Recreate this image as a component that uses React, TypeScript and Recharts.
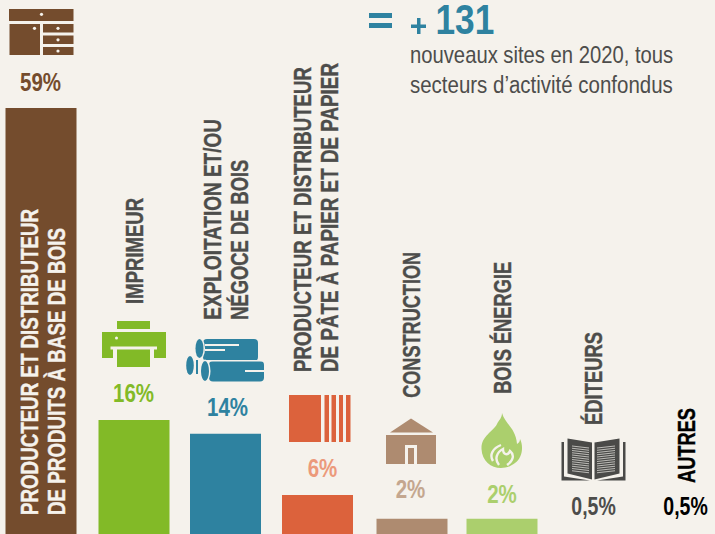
import { BarChart, Bar, XAxis, YAxis, Cell, LabelList, Rectangle } from 'recharts';

const BG = '#f5f2ec';
const GREY = '#4d4d4b';
const FONT = '"Liberation Sans", sans-serif';

const sectors = ['Produits bois', 'Imprimeur', 'Exploitation', 'Pâte à papier', 'Construction', 'Bois énergie', 'Éditeurs', 'Autres'];
const shareLabels = ['59%', '16%', '14%', '6%', '2%', '2%', '0,5%', '0,5%'];
// bar heights as drawn in the picture
const barValues = [59, 15.8, 13.9, 5.4, 2.1, 2.1, 0.5, 0.5];
const titles = [
  ['PRODUCTEUR ET DISTRIBUTEUR', 'DE PRODUITS À BASE DE BOIS'],
  ['IMPRIMEUR'],
  ['EXPLOITATION ET/OU', 'NÉGOCE DE BOIS'],
  ['PRODUCTEUR ET DISTRIBUTEUR', 'DE PÂTE À PAPIER ET DE PAPIER'],
  ['CONSTRUCTION'],
  ['BOIS ÉNERGIE'],
  ['ÉDITEURS'],
  ['AUTRES'],
];
// the picture uses a condensed face, so each line is fitted to its length
const titleLengths = [[306, 287], [106], [200.5, 160], [305, 309], [146], [132], [93], [75]];

// the two 0,5% sectors have no visible bar in the picture
const barColors = ['#744c2d', '#82ba27', '#2e82a0', '#dc623c', '#ae8b70', '#abcf6d', 'none', 'none'];
const labelColors = ['#744c2d', '#82ba27', '#2e82a0', '#ec9a7b', '#c4a78f', '#abcf6d', GREY, '#000000'];
const titleColors = ['#f5f2ec', GREY, GREY, GREY, GREY, GREY, GREY, '#000000'];

// small shifts and text offsets from each bar's centre and top
const barNudge = [0, 1, 0.5, 0.5, 3, 1, 0, 0];
const titleDx = [-3, 9.5, -4.5, -6.5, 10.5, 9.5, 8.5, 9.5];
const titleLift = [-407, 116, 114, 123, 121, 125, 105.4, 47.4];
const labelDx = [-0.5, 0.5, 2.5, 5.5, 1.5, 1, 0.5, 0.5];
const labelLift = [17, 18, 18, 18, 21, 16, 15.4, 15.4];

const rows = sectors.map((name, i) => ({ name, value: barValues[i], share: shareLabels[i] }));

function BarTexts(props: any) {
  const { x, y, width, index } = props;
  const cx = x + width / 2;
  const label = shareLabels[index];
  return (
    <g>
      <text
        transform={`translate(${cx + labelDx[index]} ${y - labelLift[index]}) scale(${label.length > 3 ? 0.78 : 0.82} 1)`}
        textAnchor="middle"
        fontFamily={FONT}
        fontWeight="bold"
        fontSize={25}
        fill={labelColors[index]}
      >
        {label}
      </text>
      {titles[index].map((line, k) => {
        const tx = cx + titleDx[index] + k * 27;
        const ty = y - titleLift[index];
        return (
          <text
            key={line}
            transform={`translate(${tx} ${ty}) rotate(-90)`}
            textLength={titleLengths[index][k]}
            lengthAdjust="spacingAndGlyphs"
            fontFamily={FONT}
            fontWeight="bold"
            fontSize={24}
            fill={titleColors[index]}
            stroke={titleColors[index]}
            strokeWidth={0.4}
          >
            {line}
          </text>
        );
      })}
    </g>
  );
}

function NudgedBar(props: any) {
  return <Rectangle {...props} x={props.x + barNudge[props.index]} />;
}

function Icons() {
  const bookLines = [0, 1, 2, 3, 4, 5, 6, 7, 8, 9, 10, 11];
  return (
    <svg width={715} height={534} style={{ position: 'absolute', left: 0, top: 0 }}>
      {/* furniture */}
      <g fill="#744c2d">
        <rect x={9} y={9} width={64.5} height={12} />
        <rect x={9.5} y={24} width={30.5} height={31} />
        <rect x={43} y={24} width={30.5} height={8.5} />
        <rect x={43} y={35.5} width={30.5} height={8.5} />
        <rect x={43} y={47} width={30.5} height={8} />
      </g>
      <g fill={BG}>
        <circle cx={41.5} cy={14.3} r={1.6} />
        <circle cx={34.5} cy={28.3} r={1.6} />
        <circle cx={58} cy={28.3} r={1.6} />
        <circle cx={58} cy={39.8} r={1.6} />
        <circle cx={58} cy={51} r={1.6} />
      </g>
      {/* printer */}
      <g fill="#82ba27">
        <rect x={117} y={321} width={33} height={8} />
        <rect x={102} y={332} width={64} height={26} />
      </g>
      <rect x={113} y={349} width={41} height={10} fill={BG} />
      <rect x={110.5} y={346.5} width={46.5} height={3} fill={BG} />
      <rect x={117} y={349.5} width={33} height={17.5} fill="#82ba27" />
      <circle cx={116.5} cy={338} r={1.5} fill={BG} />
      {/* logs */}
      <g fill="#2e82a0">
        <rect x={203} y={339} width={55} height={22} rx={4} />
        <ellipse cx={190} cy={365.5} rx={3.8} ry={9.5} />
        <rect x={209} y={361} width={55} height={20.5} rx={4} />
        <rect x={196} y={360} width={2} height={14} />
      </g>
      <g fill={BG}>
        <rect x={203} y={360} width={60} height={1.5} />
        <ellipse cx={199.5} cy={348.5} rx={5.5} ry={11} />
        <ellipse cx={205} cy={371} rx={5.5} ry={11.5} />
      </g>
      <g fill="#2e82a0">
        <ellipse cx={199.5} cy={348.5} rx={4} ry={9.5} />
        <ellipse cx={205} cy={371} rx={4} ry={10} />
      </g>
      <g fill={BG}>
        <rect x={205} y={344} width={34} height={2} />
        <rect x={205} y={349} width={20} height={2} />
        <rect x={245} y={370} width={19} height={2} />
      </g>
      {/* pulp stack */}
      <g fill="#dc623c">
        <rect x={289} y={395} width={32} height={47} />
        <rect x={324.5} y={395} width={4.5} height={47} />
        <rect x={331.5} y={395} width={4.5} height={47} />
        <rect x={339} y={395} width={4} height={47} />
        <rect x={346} y={395} width={4.5} height={47} />
      </g>
      {/* house */}
      <g fill="#ae8b70">
        <path d="M390 432.5 L411 418.5 L433 432.5 Z" />
        <rect x={386} y={435} width={50} height={29} />
      </g>
      <rect x={405} y={445} width={12} height={19} fill={BG} />
      <rect x={408} y={448} width={6} height={16} fill="#ae8b70" />
      {/* flame */}
      <path
        d="M502 413 C505 424 516 428 517 444 C519 443 520 441 520 439 C524 447 522 458 515 463 C510 467 505 468 501 468 C491 468 482 461 481.5 449 C481 436 493 432 497 424 C499 420 502 418 502 413 Z"
        fill="#abcf6d"
      />
      <path
        d="M501 445 C493 448 489 455 493 461 M499 465 C494 459 497 452 503 449 C503 455 508 456 510 451 C515 455 513 461 507 465"
        fill="none"
        stroke={BG}
        strokeWidth={2.4}
      />
      {/* book */}
      <g fill="#4a4a48">
        <path d="M567.5 438.5 L592 442.5 L592 479.5 L567.5 473.5 Z" />
        <path d="M594.5 442.5 L619.5 438.5 L619.5 473.5 L594.5 479.5 Z" />
        <path d="M561.5 442 L564 442 L564 476.5 L590 480.5 L561.5 480.5 Z" />
        <path d="M625.5 442 L623 442 L623 476.5 L597 480.5 L625.5 480.5 Z" />
      </g>
      <g stroke="#c9c8c4" strokeWidth={0.9}>
        {bookLines.map((n) => (
          <g key={n}>
            <line x1={572} y1={446 + n * 2.25} x2={589} y2={448 + n * 2.25} />
            <line x1={597} y1={448 + n * 2.25} x2={615} y2={446 + n * 2.25} />
          </g>
        ))}
      </g>
      {/* headline */}
      <g fill="#2e82a0">
        <rect x={369} y={13} width={23} height={5} />
        <rect x={369} y={23} width={23} height={5} />
        <rect x={411} y={24.5} width={15} height={3.5} />
        <rect x={417} y={18} width={3.5} height={16} />
      </g>
      <text transform="translate(435.5 34) scale(0.82 1)" fontFamily={FONT} fontWeight="bold" fontSize={43} fill="#2e82a0">
        131
      </text>
      <text transform="translate(410 63) scale(0.88 1)" fontFamily={FONT} fontSize={23} fill={GREY}>
        nouveaux sites en 2020, tous
      </text>
      <text transform="translate(410 93) scale(0.89 1)" fontFamily={FONT} fontSize={23} fill={GREY}>
        secteurs d’activité confondus
      </text>
    </svg>
  );
}

export default function App() {
  return (
    <div style={{ position: 'absolute', left: 0, top: 0, width: 715, height: 534, background: BG, overflow: 'hidden' }}>
      <BarChart
        width={715}
        height={534}
        data={rows}
        margin={{ top: 108, right: -15.5, bottom: 0, left: -5.5 }}
        barSize={71}
      >
        <XAxis dataKey="name" hide />
        <YAxis hide domain={[0, 59]} />
        <Bar dataKey="value" isAnimationActive={false} shape={NudgedBar}>
          {rows.map((r, i) => (
            <Cell key={r.name} fill={barColors[i]} />
          ))}
          <LabelList dataKey="share" content={BarTexts} />
        </Bar>
      </BarChart>
      <Icons />
    </div>
  );
}
